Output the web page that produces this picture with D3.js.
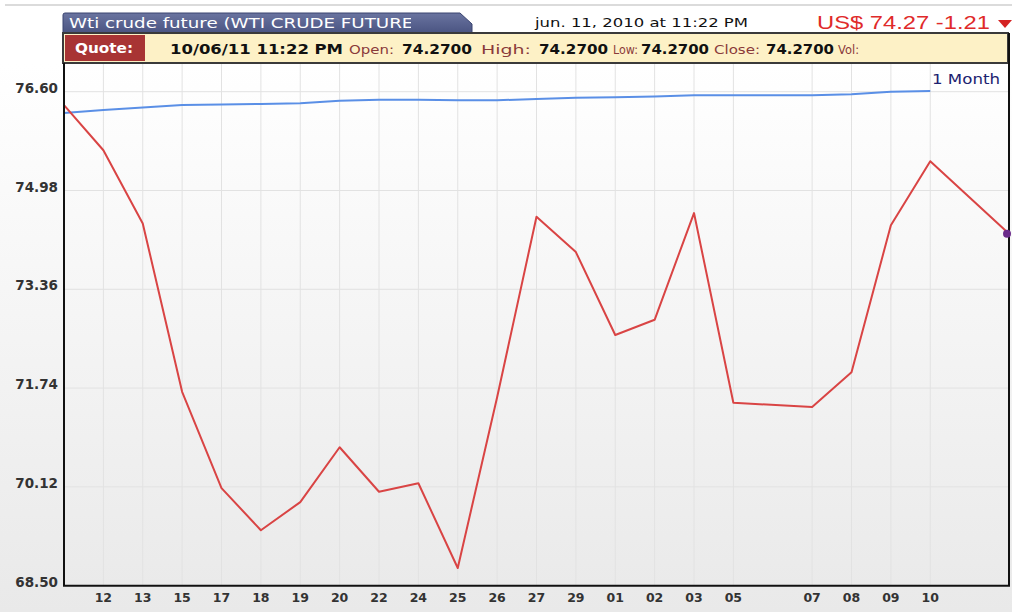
<!DOCTYPE html>
<html>
<head>
<meta charset="utf-8">
<script src="https://cdn.jsdelivr.net/npm/d3@7"></script>
<style>
  body { margin: 0; background: #fff; }
  text { font-family: "DejaVu Sans", Verdana, sans-serif; }
</style>
</head>
<body>
<svg id="chart" width="1012" height="612"></svg>
<script>
// day labels under each slot (empty = no label / no gridline)
const days = ["", "12", "13", "15", "17", "18", "19", "20", "22", "24", "25", "26", "27", "29",
  "01", "02", "03", "05", "", "07", "08", "09", "10", "", ""];

// WTI close per slot (null = no point there)
const price = [76.38, 75.64, 74.44, 71.68, 70.10, 69.41, 69.87, 70.77, 70.04, 70.18, 68.79, 71.59,
  74.55, 73.97, 72.61, 72.86, 74.61, 71.50, null, 71.43, 72.00, 74.41, 75.46, null, 74.27];

// 1 month line
const month = [76.25, 76.30, 76.34, 76.38, 76.39, 76.40, 76.41, 76.45, 76.47, 76.47, 76.46, 76.46,
  76.48, 76.50, 76.51, 76.52, 76.54, 76.54, null, 76.54, 76.56, 76.60, 76.61, null, null];

const yTicks = [76.60, 74.98, 73.36, 71.74, 70.12, 68.50];

// quote bar: text, x, width, bold
const quote = [
  ["10/06/11 11:22 PM", 170, 173, true],
  ["Open:", 349, 45, false], ["74.2700", 402, 70, true],
  ["High:", 481, 50, false], ["74.2700", 539, 69, true],
  ["Low:", 613, 25, false], ["74.2700", 641, 68, true],
  ["Close:", 714, 46, false], ["74.2700", 766, 68, true],
  ["Vol:", 838, 21, false]
];

const svg = d3.select("#chart");

const x = d3.scaleLinear().domain([0, 24]).range([64, 1009]);
const y = d3.scaleLinear().domain([68.5, 76.6]).range([585.7, 91.7]);

const defs = svg.append("defs");
const grad = defs.append("linearGradient").attr("id", "bg")
  .attr("x1", 0).attr("y1", 0).attr("x2", 0).attr("y2", 1);
grad.append("stop").attr("offset", "0%").attr("stop-color", "#ffffff");
grad.append("stop").attr("offset", "100%").attr("stop-color", "#e9e9e9");

const tabGrad = defs.append("linearGradient").attr("id", "tab")
  .attr("x1", 0).attr("y1", 0).attr("x2", 0).attr("y2", 1);
tabGrad.append("stop").attr("offset", "0%").attr("stop-color", "#6a74a0");
tabGrad.append("stop").attr("offset", "100%").attr("stop-color", "#4a5482");

svg.append("rect").attr("x", 0).attr("y", 64).attr("width", 1012).attr("height", 548)
  .attr("fill", "url(#bg)");

svg.append("line").attr("x1", 5).attr("x2", 1012).attr("y1", 5).attr("y2", 5)
  .attr("stroke", "#cfcfcf").attr("stroke-width", 1.5);

// title tab
svg.append("path")
  .attr("d", "M63,33 L63,15 Q63,13 65,13 L460,13 L472,24 L472,33 Z")
  .attr("fill", "url(#tab)").attr("stroke", "#3a4470").attr("stroke-width", 1);
defs.append("clipPath").attr("id", "tabclip")
  .append("rect").attr("x", 63).attr("y", 13).attr("width", 348).attr("height", 20);
svg.append("text").attr("x", 69).attr("y", 28)
  .attr("clip-path", "url(#tabclip)")
  .attr("textLength", 363).attr("lengthAdjust", "spacingAndGlyphs")
  .attr("fill", "#fff").style("font-size", "13.5px")
  .text("Wti crude future (WTI CRUDE FUTURES)");

svg.append("text").attr("x", 535).attr("y", 27)
  .attr("textLength", 213).attr("lengthAdjust", "spacingAndGlyphs")
  .attr("fill", "#111").style("font-size", "13px")
  .text("jun. 11, 2010 at 11:22 PM");

svg.append("text").attr("x", 817).attr("y", 29)
  .attr("textLength", 173).attr("lengthAdjust", "spacingAndGlyphs")
  .attr("fill", "#e02a2a").style("font-size", "18px")
  .style("font-family", "'Liberation Sans', Arial, sans-serif")
  .text("US$ 74.27 -1.21");
svg.append("path").attr("d", "M998,20 L1012,20 L1005,28 Z").attr("fill", "#d42222");

// quote bar
svg.append("rect").attr("x", 63).attr("y", 33).attr("width", 945).attr("height", 30)
  .attr("fill", "#fdf1c6").attr("stroke", "#3a3a3a").attr("stroke-width", 2);
svg.append("rect").attr("x", 65).attr("y", 35).attr("width", 80).attr("height", 26)
  .attr("fill", "#a83434");
svg.append("text").attr("x", 75).attr("y", 53)
  .attr("textLength", 58).attr("lengthAdjust", "spacingAndGlyphs")
  .attr("fill", "#fff").style("font-size", "14px").style("font-weight", "bold")
  .text("Quote:");

svg.selectAll(".q").data(quote).enter().append("text")
  .attr("x", d => d[1]).attr("y", 53.5)
  .attr("textLength", d => d[2]).attr("lengthAdjust", "spacingAndGlyphs")
  .attr("fill", d => d[3] ? "#111" : "#8a3a3a")
  .style("font-size", d => d[3] ? "14px" : "12.5px")
  .style("font-weight", d => d[3] ? "bold" : "normal")
  .text(d => d[0]);

// gridlines
svg.append("g").selectAll("line").data(yTicks).enter().append("line")
  .attr("x1", x(0)).attr("x2", x(24))
  .attr("y1", d => y(d)).attr("y2", d => y(d))
  .attr("stroke", "#e2e2e2").attr("stroke-width", 1);

const ticked = days.map((d, i) => ({ d, i })).filter(t => t.d !== "");
svg.append("g").selectAll("line").data(ticked).enter().append("line")
  .attr("x1", t => x(t.i)).attr("x2", t => x(t.i))
  .attr("y1", 64).attr("y2", y(68.5))
  .attr("stroke", "#e2e2e2").attr("stroke-width", 1);

// axis labels
svg.append("g").selectAll("text").data(yTicks).enter().append("text")
  .attr("x", 58).attr("y", d => y(d) + 1)
  .attr("text-anchor", "end")
  .attr("fill", "#333").style("font-size", "13.5px").style("font-weight", "bold")
  .text(d => d.toFixed(2));

svg.append("g").selectAll("text").data(ticked).enter().append("text")
  .attr("x", t => x(t.i)).attr("y", 602)
  .attr("text-anchor", "middle")
  .attr("fill", "#333").style("font-size", "12.5px").style("font-weight", "bold")
  .text(t => t.d);

// lines
const line = d3.line().x(p => x(p.i)).y(p => y(p.v));
const pts = arr => arr.map((v, i) => ({ i, v })).filter(p => p.v !== null);

svg.append("path").datum(pts(month))
  .attr("fill", "none").attr("stroke", "#5a8fe6").attr("stroke-width", 2)
  .attr("d", line);

svg.append("path").datum(pts(price))
  .attr("fill", "none").attr("stroke", "#d94444").attr("stroke-width", 2)
  .attr("stroke-linejoin", "round")
  .attr("d", line);

svg.append("text").attr("x", 932).attr("y", 84)
  .attr("textLength", 68).attr("lengthAdjust", "spacingAndGlyphs")
  .attr("fill", "#1c2270").style("font-size", "13.5px")
  .text("1 Month");

// axes frame
svg.append("line").attr("x1", x(0)).attr("x2", x(0)).attr("y1", 63).attr("y2", y(68.5))
  .attr("stroke", "#111").attr("stroke-width", 2);
svg.append("line").attr("x1", x(0) - 1).attr("x2", x(24) + 1).attr("y1", y(68.5)).attr("y2", y(68.5))
  .attr("stroke", "#111").attr("stroke-width", 2);
svg.append("line").attr("x1", x(24)).attr("x2", x(24)).attr("y1", 33).attr("y2", y(68.5))
  .attr("stroke", "#111").attr("stroke-width", 2);

// last point marker
const last = pts(price).slice(-1)[0];
svg.append("circle").attr("cx", x(last.i) - 2).attr("cy", y(last.v)).attr("r", 4)
  .attr("fill", "#6a2a8a");
</script>
</body>
</html>
